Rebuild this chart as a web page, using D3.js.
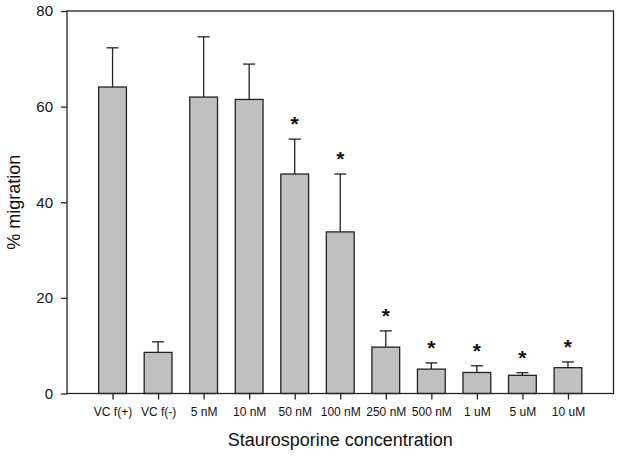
<!DOCTYPE html>
<html>
<head>
<meta charset="utf-8">
<script src="https://cdn.jsdelivr.net/npm/d3@7"></script>
<style>
  body { margin: 0; background: #fff; }
  svg { display: block; }
</style>
</head>
<body>
<svg id="chart" width="621" height="457"></svg>
<script>
const categories = ['VC f(+)', 'VC f(-)', '5 nM', '10 nM', '50 nM', '100 nM', '250 nM', '500 nM', '1 uM', '5 uM', '10 uM'];
const means = [64.1, 8.6, 62.0, 61.5, 45.9, 33.8, 9.7, 5.1, 4.4, 3.8, 5.4];
const errors = [8.2, 2.2, 12.6, 7.4, 7.3, 12.1, 3.4, 1.3, 1.4, 0.55, 1.2];
const significant = [false, false, false, false, true, true, true, true, true, true, true];
const yTicks = [0, 20, 40, 60, 80];

const font = '"Liberation Sans", Arial, sans-serif';
const margin = {top: 11, right: 7.5, bottom: 63.5, left: 67};
const width = 621, height = 457;
const svg = d3.select('#chart');

const x = d3.scalePoint()
  .domain(categories)
  .range([margin.left, width - margin.right])
  .padding(1);
const barWidth = x.step() * 0.61;

const y = d3.scaleLinear()
  .domain([0, 80])
  .range([height - margin.bottom, margin.top]);

const data = categories.map((c, i) => ({name: c, mean: means[i], err: errors[i], sig: significant[i]}));

// error bars (upper only)
const eb = svg.append('g')
  .attr('stroke', '#222')
  .attr('stroke-width', 1.3);
eb.selectAll('line.v')
  .data(data)
  .join('line')
  .attr('class', 'v')
  .attr('x1', d => x(d.name))
  .attr('x2', d => x(d.name))
  .attr('y1', d => y(d.mean))
  .attr('y2', d => y(d.mean + d.err));
eb.selectAll('line.cap')
  .data(data)
  .join('line')
  .attr('class', 'cap')
  .attr('x1', d => x(d.name) - 6)
  .attr('x2', d => x(d.name) + 6)
  .attr('y1', d => y(d.mean + d.err))
  .attr('y2', d => y(d.mean + d.err));

// bars
svg.append('g')
  .selectAll('rect')
  .data(data)
  .join('rect')
  .attr('x', d => x(d.name) - barWidth / 2)
  .attr('width', barWidth)
  .attr('y', d => y(d.mean))
  .attr('height', d => y(0) - y(d.mean))
  .attr('fill', '#c0c0c0')
  .attr('stroke', '#222')
  .attr('stroke-width', 1.3);

// significance stars
svg.append('g')
  .selectAll('text')
  .data(data.filter(d => d.sig))
  .join('text')
  .attr('x', d => x(d.name))
  .attr('y', d => y(d.mean + d.err) - 8)
  .attr('text-anchor', 'middle')
  .attr('font-family', font)
  .attr('font-size', 21)
  .attr('font-weight', 'bold')
  .attr('fill', '#111')
  .text('*');

// frame
svg.append('rect')
  .attr('x', margin.left)
  .attr('y', margin.top)
  .attr('width', width - margin.right - margin.left)
  .attr('height', height - margin.bottom - margin.top)
  .attr('fill', 'none')
  .attr('stroke', '#222')
  .attr('stroke-width', 1.3);

// y axis
const yAxis = svg.append('g')
  .attr('transform', `translate(${margin.left},0)`)
  .call(d3.axisLeft(y).tickValues(yTicks).tickSize(6).tickPadding(8));
yAxis.select('.domain').remove();
yAxis.selectAll('line').attr('stroke', '#222').attr('stroke-width', 1.3);
yAxis.selectAll('text')
  .attr('font-family', font)
  .attr('font-size', 15)
  .attr('fill', '#111');

// x axis
const xAxis = svg.append('g')
  .attr('transform', `translate(0,${height - margin.bottom})`)
  .call(d3.axisBottom(x).tickSize(6).tickPadding(8));
xAxis.select('.domain').remove();
xAxis.selectAll('line').attr('stroke', '#222').attr('stroke-width', 1.3);
xAxis.selectAll('text')
  .attr('font-family', font)
  .attr('font-size', 12)
  .attr('fill', '#111');

// axis titles
svg.append('text')
  .attr('x', (margin.left + width - margin.right) / 2)
  .attr('y', 446)
  .attr('text-anchor', 'middle')
  .attr('font-family', font)
  .attr('font-size', 18)
  .attr('fill', '#111')
  .text('Staurosporine concentration');

svg.append('text')
  .attr('transform', `translate(20,${(margin.top + height - margin.bottom) / 2}) rotate(-90)`)
  .attr('text-anchor', 'middle')
  .attr('font-family', font)
  .attr('font-size', 18)
  .attr('fill', '#111')
  .text('% migration');
</script>
</body>
</html>
